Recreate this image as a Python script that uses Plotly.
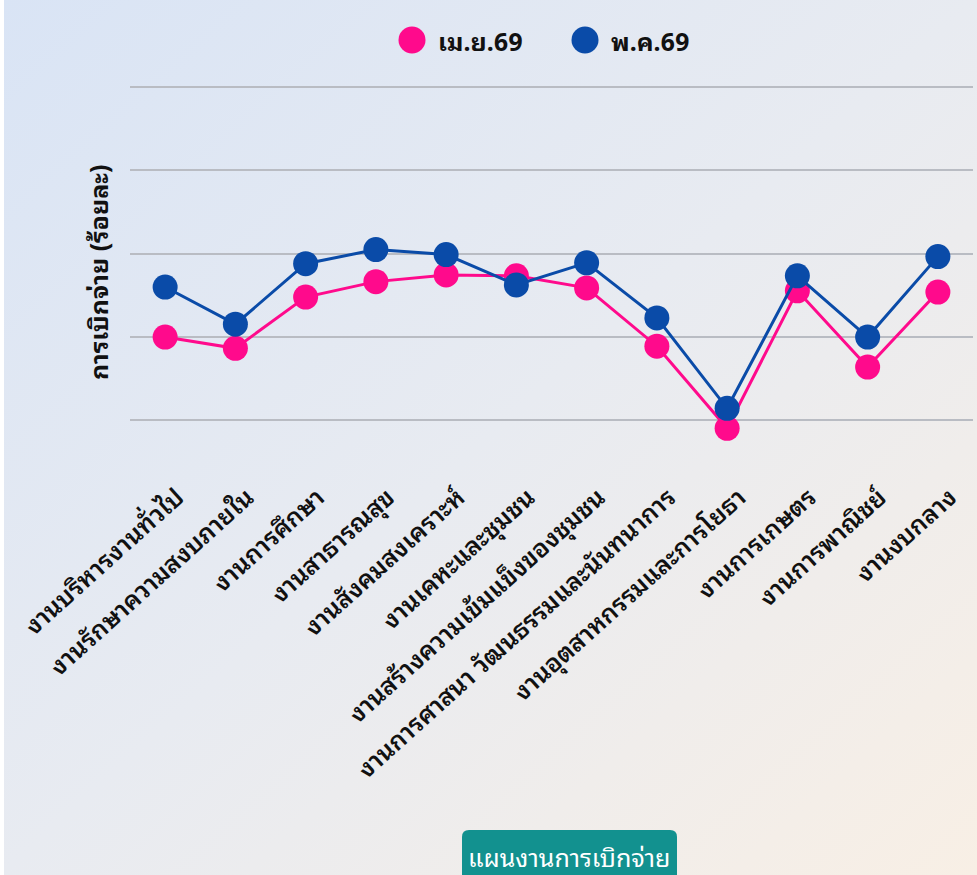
import base64
import plotly.graph_objects as go

categories = [
    "งานบริหารงานทั่วไป",
    "งานรักษาความสงบภายใน",
    "งานการศึกษา",
    "งานสาธารณสุข",
    "งานสังคมสงเคราะห์",
    "งานเคหะและชุมชน",
    "งานสร้างความเข้มแข็งของชุมชน",
    "งานการศาสนา วัฒนธรรมและนันทนาการ",
    "งานอุตสาหกรรมและการโยธา",
    "งานการเกษตร",
    "งานการพาณิชย์",
    "งานงบกลาง",
]
apr_69 = [40.0, 37.3, 49.6, 53.3, 54.9, 54.7, 51.8, 37.8, 18.1, 51.1, 32.8, 50.8]
may_69 = [52.0, 43.1, 57.6, 61.0, 59.8, 52.5, 57.8, 44.6, 22.9, 54.7, 40.0, 59.3]
series_names = ["เม.ย.69", "พ.ค.69"]
grid_values = [20, 40, 60, 80, 100]

PINK = "#FF0A8C"
BLUE = "#0A4BA8"
FONT = "Noto Sans Thai Looped, Noto Sans Thai, Tahoma, Noto Sans, sans-serif"

W, H = 977, 875
L, R, T, B = 130, 4, 85, 410
PW = W - L - R
PH = H - T - B


def px(x):
    return (x - L) / PW


def py(y):
    return (H - B - y) / PH


fig = go.Figure()
for name, vals, col in [(series_names[0], apr_69, PINK), (series_names[1], may_69, BLUE)]:
    fig.add_trace(go.Scatter(
        x=categories, y=vals, name=name, mode="lines+markers",
        line=dict(color=col, width=3),
        marker=dict(color=col, size=25),
        showlegend=False,
    ))

svg = ('<svg xmlns="http://www.w3.org/2000/svg" width="977" height="875">'
       '<defs><linearGradient id="g" x1="0" y1="0" x2="1" y2="1">'
       '<stop offset="0" stop-color="#d9e4f5"/>'
       '<stop offset="0.5" stop-color="#e8ebf1"/>'
       '<stop offset="1" stop-color="#f8efe5"/>'
       '</linearGradient></defs>'
       '<rect width="977" height="875" fill="url(#g)"/>'
       '<rect width="4" height="875" fill="#ffffff"/>'
       '</svg>')
src = "data:image/svg+xml;base64," + base64.b64encode(svg.encode()).decode()

shapes = []
annotations = []
legend_items = [(series_names[0], PINK, 412, 436), (series_names[1], BLUE, 585, 609)]
for name, col, cx, tx in legend_items:
    shapes.append(dict(type="circle", xref="paper", yref="paper",
                       xsizemode="pixel", ysizemode="pixel",
                       xanchor=px(cx), yanchor=py(40),
                       x0=-13.5, x1=13.5, y0=-13.5, y1=13.5,
                       fillcolor=col, line=dict(width=0)))
    annotations.append(dict(text=name, xref="paper", yref="paper",
                            x=px(tx), y=py(40), xanchor="left", yanchor="middle",
                            showarrow=False,
                            font=dict(family=FONT, size=25, color="#111111", weight=700)))

annotations.append(dict(text="การเบิกจ่าย (ร้อยละ)", xref="paper", yref="paper",
                        x=px(97), y=py(273), textangle=-90, showarrow=False,
                        xanchor="center", yanchor="middle",
                        font=dict(family=FONT, size=25, color="#111111", weight=700)))

bx0, bx1, by0, by1, rr = 462, 677, 830, 885, 7
path = ("M %f %f L %f %f Q %f %f %f %f L %f %f Q %f %f %f %f L %f %f Z" % (
    px(bx0), py(by1), px(bx0), py(by0 + rr), px(bx0), py(by0), px(bx0 + rr), py(by0),
    px(bx1 - rr), py(by0), px(bx1), py(by0), px(bx1), py(by0 + rr), px(bx1), py(by1)))
shapes.append(dict(type="path", xref="paper", yref="paper", path=path,
                   fillcolor="#12918F", line=dict(width=0), layer="above"))
annotations.append(dict(text="แผนงานการเบิกจ่าย", xref="paper", yref="paper",
                        x=px(569), y=py(856), showarrow=False,
                        xanchor="center", yanchor="middle",
                        font=dict(family=FONT, size=25, color="#ffffff")))

fig.update_layout(
    width=W, height=H,
    margin=dict(l=L, r=R, t=T, b=B),
    paper_bgcolor="#e8ebf1",
    plot_bgcolor="rgba(0,0,0,0)",
    images=[dict(source=src, xref="paper", yref="paper",
                 x=px(0), y=py(0), sizex=W / PW, sizey=H / PH,
                 sizing="stretch", layer="below", xanchor="left", yanchor="top")],
    shapes=shapes,
    annotations=annotations,
    xaxis=dict(range=[-0.5, 11.5], showgrid=False, zeroline=False, showline=False,
               tickangle=-42, ticks="", ticklabelstandoff=12, ticklabelshift=12,
               tickfont=dict(family=FONT, size=25, color="#111111", weight=600),
               ),
    yaxis=dict(range=[9.3, 100.48], tickvals=grid_values, showticklabels=False,
               showgrid=True, gridcolor="#b9bcc3", gridwidth=1.5,
               zeroline=False, showline=False, ticks=""),
    showlegend=False,
)
fig.write_html("out.html", config={"displayModeBar": False},
               post_script="document.body.style.margin='0';document.body.style.overflow='hidden';")
